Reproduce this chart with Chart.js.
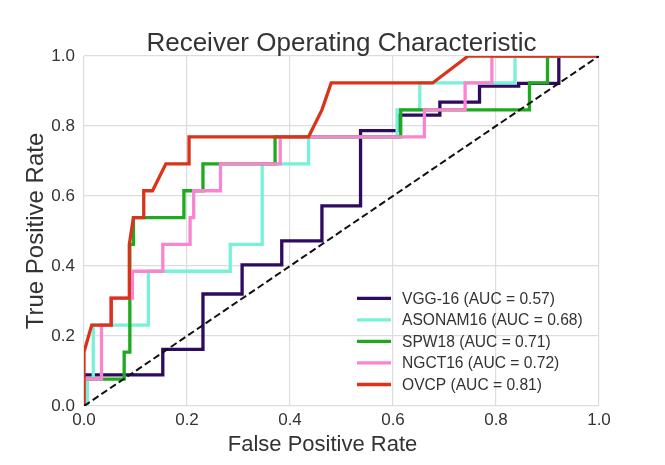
<!DOCTYPE html>
<html>
<head>
<meta charset="utf-8">
<title>ROC</title>
<script src="https://cdn.jsdelivr.net/npm/chart.js@4/dist/chart.umd.min.js"></script>
<style>
  html, body { margin: 0; padding: 0; background: #fff; }
  canvas { display: block; }
</style>
</head>
<body>
<canvas id="rocChart" width="665" height="465"></canvas>
<script>
// values
const modelNames = ["VGG-16", "ASONAM16", "SPW18", "NGCT16", "OVCP"];
const aucValues = [0.57, 0.68, 0.71, 0.72, 0.81];
const lineColors = ["#2e0b61", "#77f2d9", "#1fa91f", "#f985d0", "#d9341a"];

const vggFpr = [0, 0, 0.153, 0.153, 0.231, 0.231, 0.307, 0.307, 0.384, 0.384, 0.462, 0.462, 0.537, 0.537, 0.611, 0.611, 0.691, 0.691, 0.768, 0.768, 0.844, 0.844, 0.922, 0.922, 1];
const vggTpr = [0, 0.089, 0.089, 0.162, 0.162, 0.32, 0.32, 0.403, 0.403, 0.472, 0.472, 0.572, 0.572, 0.787, 0.787, 0.831, 0.831, 0.868, 0.868, 0.914, 0.914, 0.922, 0.922, 1, 1];

const asonamFpr = [0, 0.0065, 0.0065, 0.018, 0.018, 0.125, 0.125, 0.284, 0.284, 0.346, 0.346, 0.436, 0.436, 0.608, 0.608, 0.652, 0.652, 0.837, 0.837, 1];
const asonamTpr = [0, 0, 0.077, 0.077, 0.231, 0.231, 0.385, 0.385, 0.462, 0.462, 0.692, 0.692, 0.769, 0.769, 0.846, 0.846, 0.923, 0.923, 1, 1];

const spwFpr = [0, 0, 0.078, 0.078, 0.089, 0.089, 0.096, 0.096, 0.194, 0.194, 0.231, 0.231, 0.371, 0.371, 0.615, 0.615, 0.865, 0.865, 0.9, 0.9, 1];
const spwTpr = [0, 0.077, 0.077, 0.154, 0.154, 0.462, 0.462, 0.538, 0.538, 0.615, 0.615, 0.692, 0.692, 0.769, 0.769, 0.846, 0.846, 0.923, 0.923, 1, 1];

const ngctFpr = [0, 0, 0.034, 0.034, 0.052, 0.052, 0.094, 0.094, 0.153, 0.153, 0.206, 0.206, 0.213, 0.213, 0.265, 0.265, 0.381, 0.381, 0.661, 0.661, 0.74, 0.74, 0.792, 0.792, 1];
const ngctTpr = [0, 0.077, 0.077, 0.231, 0.231, 0.308, 0.308, 0.385, 0.385, 0.462, 0.462, 0.538, 0.538, 0.615, 0.615, 0.692, 0.692, 0.769, 0.769, 0.846, 0.846, 0.923, 0.923, 1, 1];

const ovcpFpr = [0, 0, 0.015, 0.053, 0.053, 0.088, 0.088, 0.096, 0.116, 0.116, 0.133, 0.159, 0.204, 0.204, 0.436, 0.462, 0.48, 0.677, 0.746, 1];
const ovcpTpr = [0, 0.154, 0.231, 0.231, 0.308, 0.308, 0.462, 0.538, 0.538, 0.615, 0.615, 0.692, 0.692, 0.769, 0.769, 0.846, 0.923, 0.923, 1, 1];

const chanceX = [0, 1];
const chanceY = [0, 1];

const tickValues = [0, 0.2, 0.4, 0.6, 0.8, 1.0];

document.addEventListener("DOMContentLoaded", () => {
    const canvas = document.querySelector("#rocChart");
    const textColor = "#333333";
    const fontFamily = "'Liberation Sans', Arial, sans-serif";
    const curveWidth = 3.3;

    Chart.defaults.font.family = fontFamily;
    Chart.defaults.color = textColor;

    const curves = [
        [vggFpr, vggTpr],
        [asonamFpr, asonamTpr],
        [spwFpr, spwTpr],
        [ngctFpr, ngctTpr],
        [ovcpFpr, ovcpTpr]
    ];

    function toPoints(xs, ys) {
        return xs.map((x, i) => ({ x: x, y: ys[i] }));
    }

    const datasets = curves.map((c, i) => ({
        label: `${modelNames[i]} (AUC = ${aucValues[i].toFixed(2)})`,
        data: toPoints(c[0], c[1]),
        borderColor: lineColors[i],
        backgroundColor: lineColors[i],
        borderWidth: curveWidth,
        showLine: true,
        pointRadius: 0,
        tension: 0,
        clip: 0,
        order: curves.length - i  // later curves sit on top
    }));

    datasets.push({
        label: "chance",
        data: toPoints(chanceX, chanceY),
        borderColor: "#111111",
        borderWidth: 2,
        borderDash: [7, 3.5],
        showLine: true,
        pointRadius: 0,
        clip: 0,
        order: 0
    });

    // title, axis titles and legend, placed like the matplotlib figure
    const textLayer = {
        id: "textLayer",
        afterDraw(chart) {
            const ctx = chart.ctx;
            const area = chart.chartArea;
            ctx.save();
            ctx.fillStyle = textColor;

            ctx.font = `26px ${fontFamily}`;
            ctx.textAlign = "center";
            ctx.textBaseline = "alphabetic";
            ctx.fillText("Receiver Operating Characteristic", (area.left + area.right) / 2, 50.5);

            ctx.font = `22px ${fontFamily}`;
            ctx.fillText("False Positive Rate", 322.5, 451);

            ctx.save();
            ctx.translate(42.5, (area.top + area.bottom) / 2);
            ctx.rotate(-Math.PI / 2);
            ctx.font = `24px ${fontFamily}`;
            ctx.fillText("True Positive Rate", 0, 0);
            ctx.restore();

            // legend, no frame
            const lineStart = area.right - 242;
            const lineEnd = area.right - 208;
            const textX = area.right - 197;
            let rowY = area.bottom - 107.7;
            ctx.font = `15.6px ${fontFamily}`;
            ctx.textAlign = "left";
            ctx.textBaseline = "middle";
            chart.data.datasets.forEach(ds => {
                if (ds.label === "chance") return;
                ctx.strokeStyle = ds.borderColor;
                ctx.lineWidth = curveWidth;
                ctx.beginPath();
                ctx.moveTo(lineStart, rowY);
                ctx.lineTo(lineEnd, rowY);
                ctx.stroke();
                ctx.fillStyle = textColor;
                ctx.fillText(ds.label, textX, rowY + 1);
                rowY += 21.55;
            });
            ctx.restore();
        }
    };

    const gridStyle = { color: "#dddddd", lineWidth: 1.2, drawTicks: false };

    new Chart(canvas, {
        type: "scatter",
        data: { datasets: datasets },
        options: {
            responsive: false,
            animation: false,
            layout: { padding: { top: 56, right: 66, left: 0, bottom: 0 } },
            scales: {
                x: {
                    type: "linear",
                    min: 0,
                    max: 1,
                    afterBuildTicks: s => { s.ticks = tickValues.map(v => ({ value: v })); },
                    afterFit: s => { s.height = 59; },
                    ticks: {
                        callback: v => v.toFixed(1),
                        font: { size: 17 },
                        color: textColor,
                        padding: 4,
                        maxRotation: 0
                    },
                    grid: gridStyle,
                    border: { display: false }
                },
                y: {
                    type: "linear",
                    min: 0,
                    max: 1,
                    afterBuildTicks: s => { s.ticks = tickValues.map(v => ({ value: v })); },
                    afterFit: s => { s.width = 84; },
                    ticks: {
                        callback: v => v.toFixed(1),
                        font: { size: 17 },
                        color: textColor,
                        padding: 9
                    },
                    grid: gridStyle,
                    border: { display: false }
                }
            },
            plugins: {
                legend: { display: false },
                tooltip: { enabled: false },
                title: { display: false }
            }
        },
        plugins: [textLayer]
    });
});
</script>
</body>
</html>
